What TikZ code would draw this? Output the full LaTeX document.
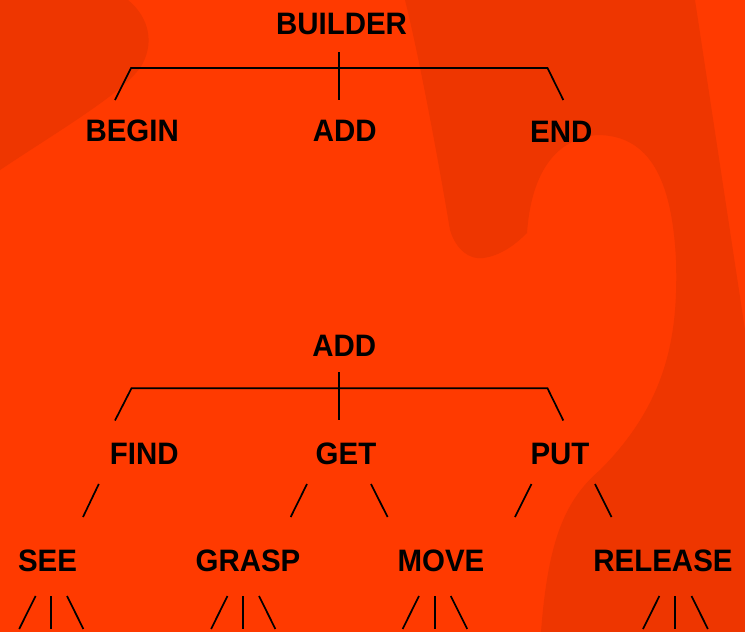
\documentclass[tikz,border=0pt]{standalone}
\usepackage{fontspec}
\newfontfamily\lab{Liberation Sans}[FakeStretch=0.95]
\definecolor{bglight}{RGB}{255,58,0}
\definecolor{bgdark}{RGB}{238,54,0}
\begin{document}
\begin{tikzpicture}[x=1pt,y=-1pt,
  lbl/.style={font=\lab\bfseries\fontsize{31}{31}\selectfont, inner sep=0pt, anchor=base, text=black},
  twig/.style={draw=black, line width=1.7pt, line cap=butt, line join=miter}]
% background
\fill[bglight] (0,0) rectangle (745,632);
\useasboundingbox (0,0) rectangle (745,632);
\fill[bgdark] (0,0) -- (128,0) .. controls (150,18) and (155,45) .. (140,68)
  .. controls (120,95) and (60,130) .. (0,170) -- cycle;
\fill[bgdark] (405,0) .. controls (420,60) and (440,170) .. (450,230)
  .. controls (456,250) and (470,260) .. (483,258)
  .. controls (500,256) and (515,245) .. (527,233)
  .. controls (530,190) and (545,140) .. (597,135)
  .. controls (650,135) and (672,180) .. (676,260)
  .. controls (678,330) and (670,400) .. (600,470)
  .. controls (565,500) and (548,540) .. (541,632)
  -- (745,632) -- (745,330) -- (695,0) -- cycle;
% labels
\node[lbl] (builder) at (341.5,34.3) {BUILDER};
\node[lbl] (begin)   at (132.2,141.7) {BEGIN};
\node[lbl] (add1)    at (344.7,141.7) {ADD};
\node[lbl] (endn)    at (561.3,142.3) {END};
\node[lbl] (add2)    at (344.3,356.8) {ADD};
\node[lbl] (find)    at (144.2,464) {FIND};
\node[lbl] (get)     at (346,464) {GET};
\node[lbl] (put)     at (560,464) {PUT};
\node[lbl] (see)     at (47.5,571) {SEE};
\node[lbl] (grasp)   at (248,571) {GRASP};
\node[lbl] (move)    at (441,571) {MOVE};
\node[lbl] (release) at (663,571) {RELEASE};
% top bracket
\coordinate (t0) at (339,52);   \coordinate (t1) at (339,100);
\coordinate (tl0) at (115,100); \coordinate (tl1) at (131,68);
\coordinate (tr1) at (547.5,68); \coordinate (tr0) at (563.3,100);
\draw[twig] (t0) -- (t1);
\draw[twig] (tl0) -- (tl1) -- (tr1) -- (tr0);
% second bracket
\coordinate (s0) at (339,372);   \coordinate (s1) at (339,420);
\coordinate (sl0) at (115,420.5); \coordinate (sl1) at (131.5,388.3);
\coordinate (sr1) at (547.5,388.3); \coordinate (sr0) at (563.3,420.5);
\draw[twig] (s0) -- (s1);
\draw[twig] (sl0) -- (sl1) -- (sr1) -- (sr0);
% middle twigs
\coordinate (f0) at (98.8,484);  \coordinate (f1) at (83,517);
\coordinate (g0) at (307,484);   \coordinate (g1) at (290.7,517);
\coordinate (g2) at (371,484);   \coordinate (g3) at (387.6,517);
\coordinate (p0) at (531.5,484); \coordinate (p1) at (515,517);
\coordinate (p2) at (595,484);   \coordinate (p3) at (611.5,517);
\draw[twig] (f0) -- (f1);
\draw[twig] (g0) -- (g1);
\draw[twig] (g2) -- (g3);
\draw[twig] (p0) -- (p1);
\draw[twig] (p2) -- (p3);
% bottom triples
\foreach \n/\a/\m/\b in {se/35.6/50.8/67, gr/227.5/243.2/259, mo/419/434.7/450.8, re/659.4/675.3/691.5}{
  \coordinate (\n a0) at (\a,596); \coordinate (\n a1) at ({\a-16.4},629);
  \coordinate (\n m0) at (\m,596); \coordinate (\n m1) at (\m,629);
  \coordinate (\n b0) at (\b,596); \coordinate (\n b1) at ({\b+16.4},629);
  \draw[twig] (\n a0) -- (\n a1);
  \draw[twig] (\n m0) -- (\n m1);
  \draw[twig] (\n b0) -- (\n b1);
}
\end{tikzpicture}
\end{document}
